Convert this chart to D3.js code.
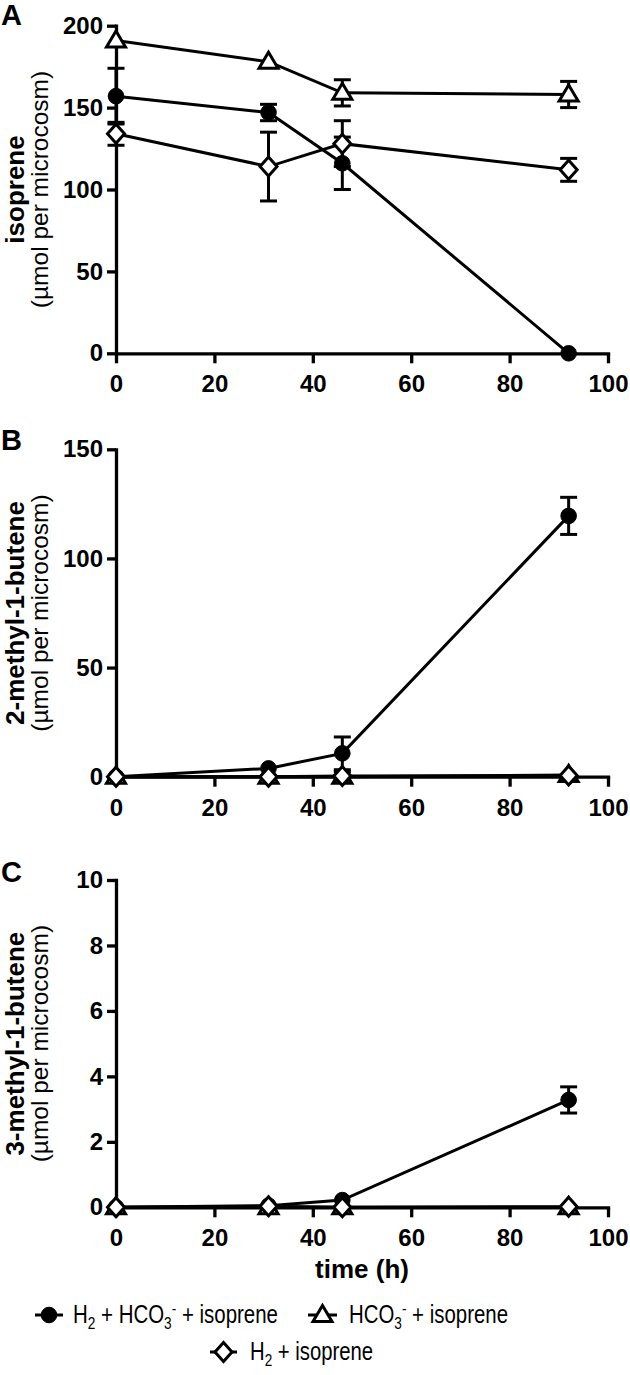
<!DOCTYPE html>
<html>
<head>
<meta charset="utf-8">
<script src="https://cdn.jsdelivr.net/npm/d3@7"></script>
<style>
  html, body { margin: 0; padding: 0; background: #fff; }
  svg { display: block; }
</style>
</head>
<body>
<script>
// ---------------- DATA ----------------
const times = [0, 31, 46, 92];
const xTicks = [0, 20, 40, 60, 80, 100];
const seriesNames = ["H2 + HCO3- + isoprene", "HCO3- + isoprene", "H2 + isoprene"];
const seriesSymbols = ["circle", "triangle", "diamond"];

// Panel A: isoprene
const yTicksA = [0, 50, 100, 150, 200];
const isopreneH2HCO3 = [157, 147, 116, 0];
const isopreneH2HCO3Err = [17, 5, 16, 0];
const isopreneHCO3 = [191, 178, 159, 158];
const isopreneHCO3Err = [0, 0, 8, 8];
const isopreneH2 = [134, 114, 128, 112];
const isopreneH2Err = [7, 21, 14, 7];

// Panel B: 2-methyl-1-butene
const yTicksB = [0, 50, 100, 150];
const mb2H2HCO3 = [0, 3.8, 10.7, 119.5];
const mb2H2HCO3Err = [0, 0, 7.5, 8.5];
const mb2HCO3 = [0, 0, 0, 0.8];
const mb2HCO3Err = [0, 0, 0, 0];
const mb2H2 = [0, 0, 0.3, 0.5];
const mb2H2Err = [0, 0, 2, 0];

// Panel C: 3-methyl-1-butene
const yTicksC = [0, 2, 4, 6, 8, 10];
const mb3H2HCO3 = [0, 0.05, 0.22, 3.28];
const mb3H2HCO3Err = [0, 0, 0, 0.4];
const mb3HCO3 = [0, 0, 0, 0];
const mb3HCO3Err = [0, 0, 0, 0];
const mb3H2 = [0, 0.03, 0, 0.02];
const mb3H2Err = [0, 0, 0, 0];

// ---------------- LAYOUT ----------------
const FONT = "'Liberation Sans', Arial, Helvetica, sans-serif";
const W = 630, H = 1375;
const LW = 3;
const svg = d3.select("body").append("svg")
  .attr("width", W).attr("height", H)
  .style("font-family", FONT);

const x = d3.scaleLinear().domain([0, 100]).range([116, 608]);

const panels = [
  { letter: "A", letterY: 25, top: 25.7, bottom: 353.3, ticks: yTicksA, title: "isoprene",
    series: [[isopreneH2HCO3, isopreneH2HCO3Err], [isopreneHCO3, isopreneHCO3Err], [isopreneH2, isopreneH2Err]] },
  { letter: "B", letterY: 450, top: 449.3, bottom: 776.7, ticks: yTicksB, title: "2-methyl-1-butene",
    series: [[mb2H2HCO3, mb2H2HCO3Err], [mb2HCO3, mb2HCO3Err], [mb2H2, mb2H2Err]] },
  { letter: "C", letterY: 882, top: 880, bottom: 1207.3, ticks: yTicksC, title: "3-methyl-1-butene",
    series: [[mb3H2HCO3, mb3H2HCO3Err], [mb3HCO3, mb3HCO3Err], [mb3H2, mb3H2Err]] }
];

function symbolPath(kind) {
  if (kind === "triangle") return "M0,-9.5L9.5,6.5L-9.5,6.5Z";
  if (kind === "diamond") return "M0,-9.5L8.5,0L0,9.5L-8.5,0Z";
  return null;
}

function drawMarker(g, kind, cx, cy) {
  if (kind === "circle") {
    g.append("circle").attr("cx", cx).attr("cy", cy).attr("r", 7.8)
      .attr("fill", "#000").attr("stroke", "#000").attr("stroke-width", 1);
  } else {
    g.append("path").attr("d", symbolPath(kind))
      .attr("transform", `translate(${cx},${cy})`)
      .attr("fill", "#fff").attr("stroke", "#000").attr("stroke-width", LW)
      .attr("stroke-linejoin", "miter");
  }
}

panels.forEach(p => {
  const y = d3.scaleLinear().domain([0, p.ticks[p.ticks.length - 1]]).range([p.bottom, p.top]);
  const g = svg.append("g");

  // panel letter
  g.append("text").attr("x", 1).attr("y", p.letterY)
    .attr("font-size", 29).attr("font-weight", "bold").text(p.letter);

  // y title
  const cy = (p.top + p.bottom) / 2;
  g.append("text")
    .attr("transform", `translate(24,${cy}) rotate(-90)`)
    .attr("text-anchor", "middle").attr("font-size", 26).attr("font-weight", "bold")
    .text(p.title);
  g.append("text")
    .attr("transform", `translate(48,${cy}) rotate(-90)`)
    .attr("text-anchor", "middle").attr("font-size", 24.5)
    .text("(µmol per microcosm)");

  // axes
  const xa = g.append("g").attr("transform", `translate(0,${p.bottom})`)
    .call(d3.axisBottom(x).tickValues(xTicks).tickSize(10).tickPadding(12).tickSizeOuter(0));
  const ya = g.append("g").attr("transform", `translate(${x(0)},0)`)
    .call(d3.axisLeft(y).tickValues(p.ticks).tickSize(9).tickPadding(4).tickSizeOuter(0)
      .tickFormat(d3.format("d")));
  [xa, ya].forEach(a => {
    a.select(".domain").attr("stroke-width", 3.3).attr("stroke", "#000").attr("stroke-linecap", "square");
    a.selectAll(".tick line").attr("stroke-width", 3.3).attr("stroke", "#000");
    a.selectAll(".tick text").attr("font-size", 24).attr("font-weight", "bold")
      .attr("font-family", FONT).attr("fill", "#000");
  });

  // series
  p.series.forEach((s, si) => {
    const vals = s[0], errs = s[1];
    const pts = times.map((t, i) => ({ t, v: vals[i], e: errs[i] }));
    const sg = g.append("g");
    // error bars
    pts.filter(d => d.e > 0).forEach(d => {
      const px = x(d.t);
      const y1 = y(d.v + d.e), y2 = y(d.v - d.e);
      sg.append("line").attr("x1", px).attr("x2", px).attr("y1", y1).attr("y2", y2)
        .attr("stroke", "#000").attr("stroke-width", LW);
      [y1, y2].forEach(yy => sg.append("line")
        .attr("x1", px - 8.5).attr("x2", px + 8.5).attr("y1", yy).attr("y2", yy)
        .attr("stroke", "#000").attr("stroke-width", LW));
    });
    // line
    sg.append("path").datum(pts)
      .attr("d", d3.line().x(d => x(d.t)).y(d => y(d.v)))
      .attr("fill", "none").attr("stroke", "#000").attr("stroke-width", LW);
    // markers
    pts.forEach(d => drawMarker(sg, seriesSymbols[si], x(d.t), y(d.v)));
  });
});

// x title
svg.append("text").attr("x", (x(0) + x(100)) / 2).attr("y", 1278)
  .attr("text-anchor", "middle").attr("font-size", 26).attr("font-weight", "bold")
  .text("time (h)");

// ---------------- LEGEND ----------------
const legendItems = [
  { sym: "circle", x0: 35, x1: 63, y: 1315, tx: 73, tw: 205, parts: [["H"], ["2", "sub"], [" + HCO"], ["3", "sub"], ["-", "sup"], [" + isoprene"]] },
  { sym: "triangle", x0: 308, x1: 337, y: 1315, tx: 349, tw: 159, parts: [["HCO"], ["3", "sub"], ["-", "sup"], [" + isoprene"]] },
  { sym: "diamond", x0: 210, x1: 237, y: 1352, tx: 250, tw: 123, parts: [["H"], ["2", "sub"], [" + isoprene"]] }
];
const lg = svg.append("g");
legendItems.forEach(it => {
  lg.append("line").attr("x1", it.x0).attr("x2", it.x1).attr("y1", it.y).attr("y2", it.y)
    .attr("stroke", "#000").attr("stroke-width", LW);
  drawMarker(lg, it.sym, (it.x0 + it.x1) / 2, it.y);
  const t = lg.append("text").attr("x", it.tx).attr("y", it.y + 8)
    .attr("font-size", 25.5).attr("font-family", "'Liberation Sans Narrow', " + FONT)
    .attr("textLength", it.tw).attr("lengthAdjust", "spacingAndGlyphs");
  let shift = 0;
  it.parts.forEach(pt => {
    let target = 0, fs = 25.5;
    if (pt[1] === "sub") { target = 6; fs = 17; }
    if (pt[1] === "sup") { target = -9; fs = 17; }
    t.append("tspan").attr("dy", target - shift).attr("font-size", fs).text(pt[0]);
    shift = target;
  });
});
</script>
</body>
</html>
